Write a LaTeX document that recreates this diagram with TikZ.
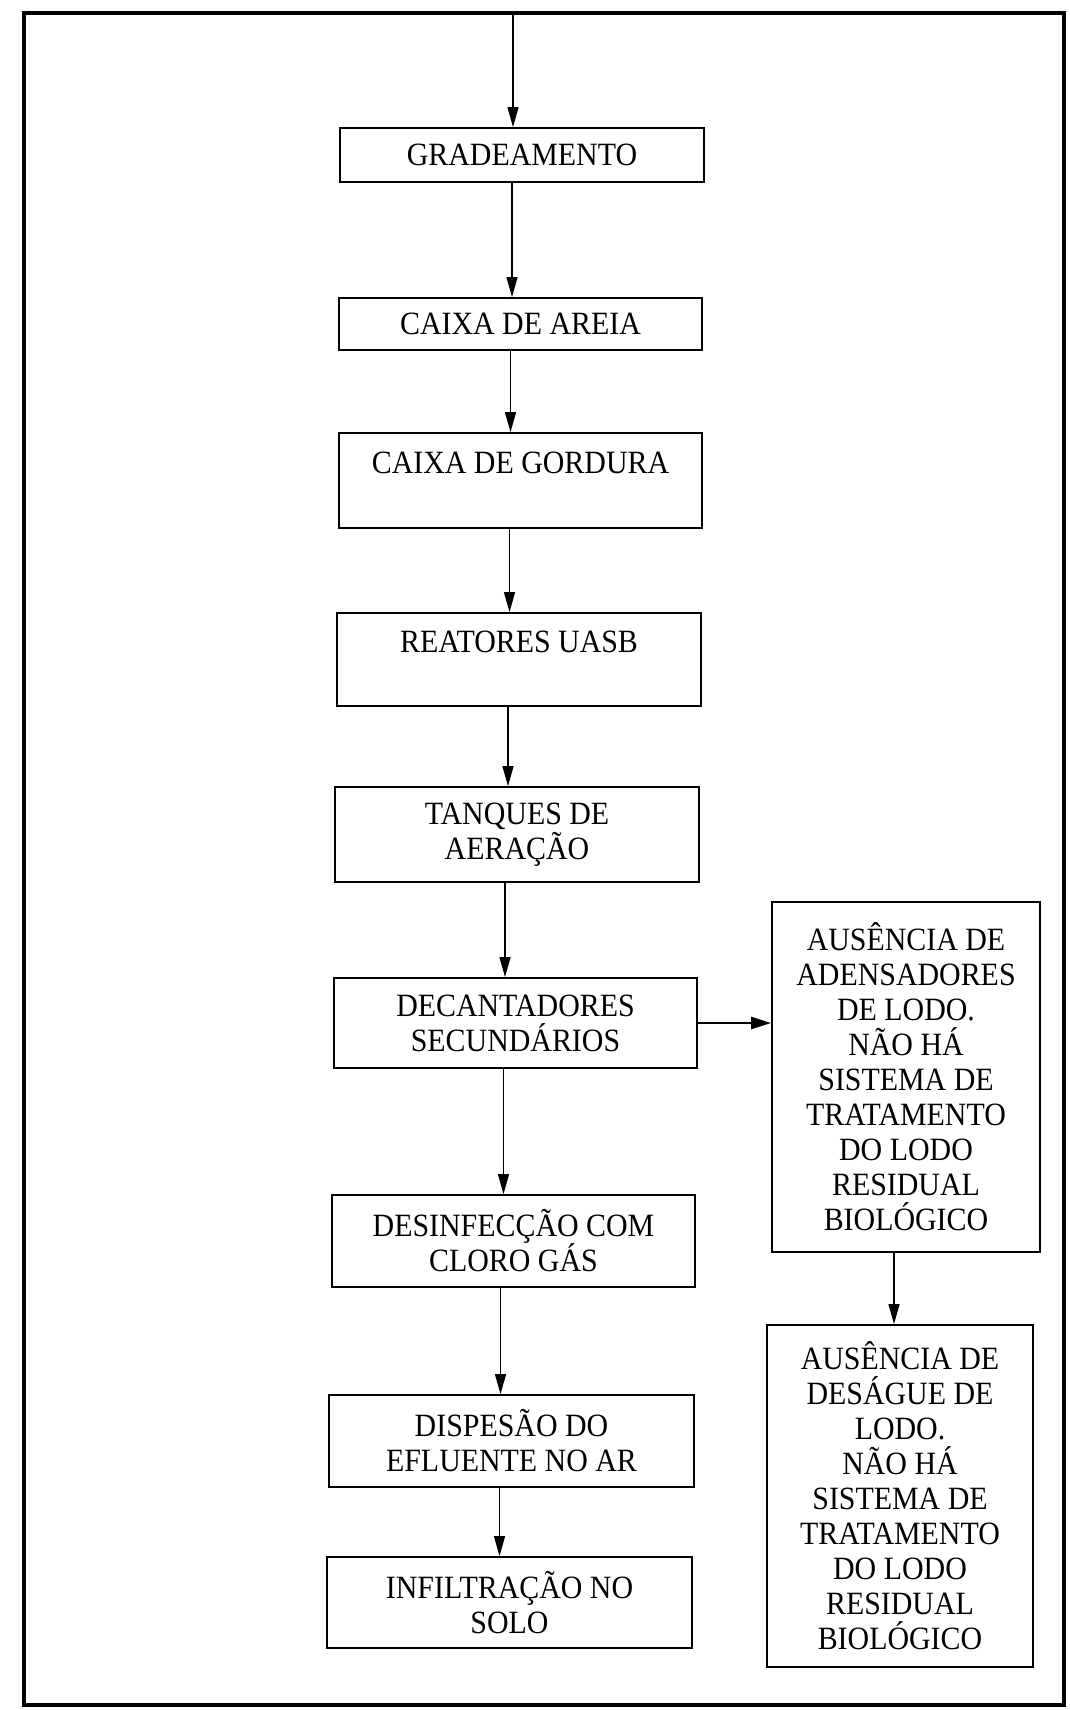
\documentclass[tikz,border=0pt]{standalone}
\usepackage{fontspec}
\setmainfont{Liberation Serif}[FakeStretch=0.92]
\usetikzlibrary{arrows.meta}
\begin{document}
\begin{tikzpicture}[x=1pt,y=-1pt,
  box/.style={draw, line width=1.8pt, inner sep=0pt, align=center,
    font=\fontsize{32.5}{35}\selectfont},
  arr/.style={line width=1.3pt, -{Triangle[length=20pt,width=11pt]}},
  arrb/.style={line width=2.4pt, -{Triangle[length=20pt,width=12pt]}}]
\useasboundingbox (0,0) rectangle (1069,1710);
\draw[line width=4pt] (24,13) rectangle (1064,1705);
\coordinate (top) at (513,13);
\node[box, minimum width=364pt, minimum height=54pt] (gr) at (522,155) {GRADEAMENTO};
\node[box, minimum width=363pt, minimum height=52pt] (ca) at (520.5,324) {CAIXA DE AREIA};
\node[box, minimum width=363pt, minimum height=95pt] (cg) at (520.5,480.5) {CAIXA DE GORDURA\\ \mbox{}};
\node[box, minimum width=364pt, minimum height=93pt] (re) at (519,659.5) {REATORES UASB\\ \mbox{}};
\node[box, minimum width=364pt, minimum height=95pt] (ta) at (517,834.5) {TANQUES DE\\ AERAÇÃO};
\node[box, minimum width=363pt, minimum height=90pt] (de) at (515.5,1023) {DECANTADORES\\ SECUNDÁRIOS};
\node[box, minimum width=363pt, minimum height=92pt] (di) at (513.5,1241) {DESINFECÇÃO COM\\ CLORO GÁS};
\node[box, minimum width=365pt, minimum height=92pt] (dp) at (511.5,1441) {DISPESÃO DO\\ EFLUENTE NO AR};
\node[box, minimum width=365pt, minimum height=91pt] (in) at (509.5,1602.5) {INFILTRAÇÃO NO\\ SOLO};
\node[box, minimum width=268pt, minimum height=350pt] (r1) at (906,1077)
  {AUSÊNCIA DE\\ ADENSADORES\\ DE LODO.\\ NÃO HÁ\\ SISTEMA DE\\ TRATAMENTO\\ DO LODO\\ RESIDUAL\\ BIOLÓGICO};
\node[box, minimum width=266pt, minimum height=342pt] (r2) at (900,1496)
  {AUSÊNCIA DE\\ DESÁGUE DE\\ LODO.\\ NÃO HÁ\\ SISTEMA DE\\ TRATAMENTO\\ DO LODO\\ RESIDUAL\\ BIOLÓGICO};
\draw[arr] (top) -- (top |- gr.north);
\draw[arr] ([xshift=-10pt]gr.south) -- ([xshift=-10pt]gr.south |- ca.north);
\draw[arr] ([xshift=-10pt]ca.south) -- ([xshift=-10pt]ca.south |- cg.north);
\draw[arr] ([xshift=-11pt]cg.south) -- ([xshift=-11pt]cg.south |- re.north);
\draw[arr] ([xshift=-11pt]re.south) -- ([xshift=-11pt]re.south |- ta.north);
\draw[arr] ([xshift=-12pt]ta.south) -- ([xshift=-12pt]ta.south |- de.north);
\draw[arr] ([xshift=-12pt]de.south) -- ([xshift=-12pt]de.south |- di.north);
\draw[arr] ([xshift=-13pt]di.south) -- ([xshift=-13pt]di.south |- dp.north);
\draw[arr] ([xshift=-12pt]dp.south) -- ([xshift=-12pt]dp.south |- in.north);
\draw[arrb] (de.east) -- (de.east -| r1.west);
\draw[arr] ([xshift=-12pt]r1.south) -- ([xshift=-12pt]r1.south |- r2.north);
\end{tikzpicture}
\end{document}
